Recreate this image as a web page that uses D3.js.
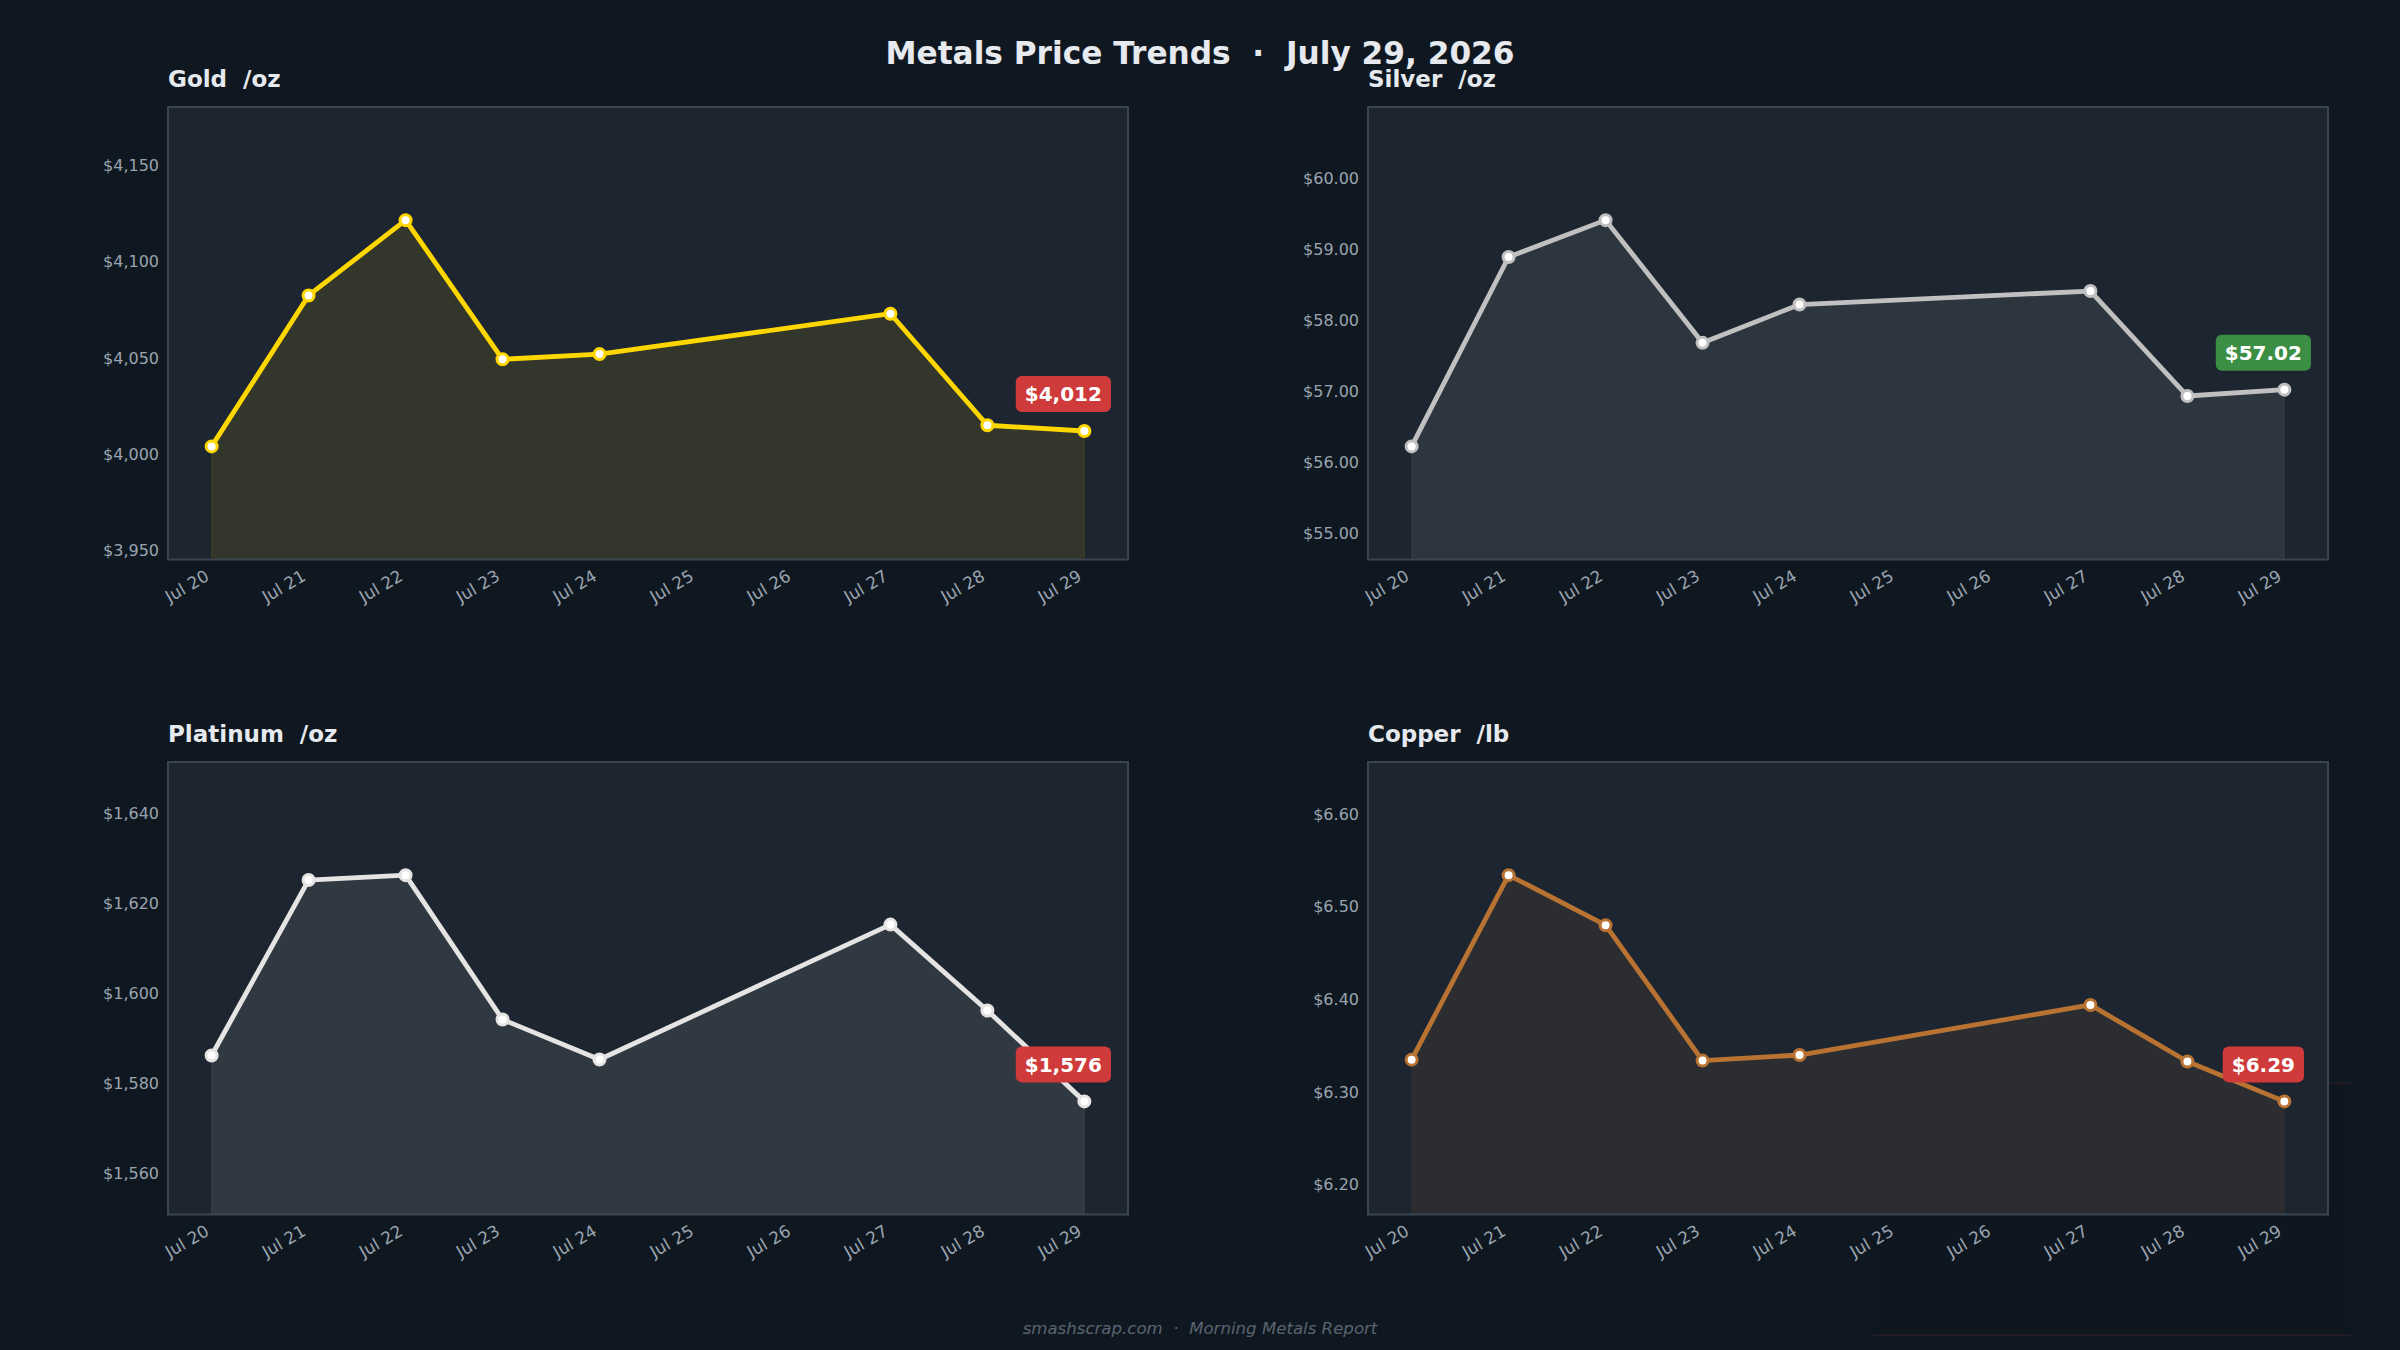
<!DOCTYPE html>
<html><head><meta charset="utf-8">
<script src="https://cdn.jsdelivr.net/npm/d3@7"></script>
<style>
html,body{margin:0;padding:0;background:#0f1821;}
svg{display:block;}
text{font-family:"DejaVu Sans",sans-serif;}
</style></head>
<body>
<svg id="chart" width="2400" height="1350"></svg>
<script>
// ---- data ----
const tickDays = [20,21,22,23,24,25,26,27,28,29];
const tickLabels = ["Jul 20","Jul 21","Jul 22","Jul 23","Jul 24","Jul 25","Jul 26","Jul 27","Jul 28","Jul 29"];
const tradeDays = [20,21,22,23,24,27,28,29];

const goldPrices     = [4004, 4082.5, 4121.7, 4049.3, 4052, 4073, 4015, 4012];
const silverPrices   = [56.22, 58.89, 59.41, 57.68, 58.22, 58.41, 56.93, 57.02];
const platinumPrices = [1586.2, 1625.2, 1626.3, 1594.2, 1585.3, 1615.3, 1596.2, 1576];
const copperPrices   = [6.335, 6.534, 6.480, 6.334, 6.340, 6.394, 6.333, 6.29];

const goldTicks     = [3950, 4000, 4050, 4100, 4150];
const silverTicks   = [55, 56, 57, 58, 59, 60];
const platinumTicks = [1560, 1580, 1600, 1620, 1640];
const copperTicks   = [6.2, 6.3, 6.4, 6.5, 6.6];

const panelNames = ["Gold", "Silver", "Platinum", "Copper"];
const panelUnits = ["/oz", "/oz", "/oz", "/lb"];
const panelColors = ["#FFD700", "#C0C0C0", "#E5E4E2", "#B87333"];

// ---- layout ----
const svg = d3.select("#chart");
svg.append("rect").attr("width",2400).attr("height",1350).attr("fill","#0f1821");

// faint background artifact lower right
svg.append("rect").attr("x",1873).attr("y",1083).attr("width",478).attr("height",252)
  .attr("fill","#0e1620").attr("opacity",0.6);
svg.append("line").attr("x1",1873).attr("x2",2351).attr("y1",1335).attr("y2",1335)
  .attr("stroke","#3a2228").attr("stroke-width",1.5).attr("opacity",0.6);
svg.append("line").attr("x1",2328).attr("x2",2351).attr("y1",1083).attr("y2",1083)
  .attr("stroke","#3a2228").attr("stroke-width",1.5).attr("opacity",0.6);

svg.append("text").attr("x",1200).attr("y",64).attr("text-anchor","middle")
  .attr("font-size",31.2).attr("font-weight","bold").attr("fill","#e6e9ed")
  .style("white-space","pre").text("Metals Price Trends  \u00b7  July 29, 2026");

svg.append("text").attr("x",1200).attr("y",1334).attr("text-anchor","middle")
  .attr("font-size",16.6).attr("font-style","italic").attr("fill","#5a6470")
  .style("white-space","pre").text("smashscrap.com  \u00b7  Morning Metals Report");

const panels = [
  {prices: goldPrices, ticks: goldTicks, fmt: v => "$" + d3.format(",.0f")(v), lab: v => "$" + d3.format(",.0f")(v), left:168, top:107},
  {prices: silverPrices, ticks: silverTicks, fmt: v => "$" + d3.format(".2f")(v), lab: v => "$" + d3.format(".2f")(v), left:1368, top:107},
  {prices: platinumPrices, ticks: platinumTicks, fmt: v => "$" + d3.format(",.0f")(v), lab: v => "$" + d3.format(",.0f")(v), left:168, top:762},
  {prices: copperPrices, ticks: copperTicks, fmt: v => "$" + d3.format(".2f")(v), lab: v => "$" + d3.format(".2f")(v), left:1368, top:762}
];
const W = 960, H = 452.5;

panels.forEach((p, i) => {
  const color = panelColors[i];
  const g = svg.append("g").attr("transform", `translate(${p.left},${p.top})`);
  const mn = d3.min(p.prices), mx = d3.max(p.prices), rg = mx - mn;
  const x = d3.scaleLinear().domain([19.55, 29.45]).range([0, W]);
  const y = d3.scaleLinear().domain([mn - rg/2, mx + rg/2]).range([H, 0]);

  g.append("rect").attr("width",W).attr("height",H).attr("fill","#1c2530");

  const data = tradeDays.map((d, k) => ({d, v: p.prices[k]}));

  const area = d3.area().x(d => x(d.d)).y0(H).y1(d => y(d.v));
  g.append("path").datum(data).attr("d", area)
    .attr("fill", color).attr("fill-opacity", 0.1)
    .attr("stroke", color).attr("stroke-opacity", 0.08).attr("stroke-width", 1.5);

  const line = d3.line().x(d => x(d.d)).y(d => y(d.v));
  g.append("path").datum(data).attr("d", line)
    .attr("fill","none").attr("stroke", color).attr("stroke-width", 4.8)
    .attr("stroke-linejoin","round").attr("stroke-linecap","round");

  g.selectAll("circle.pt").data(data).join("circle").attr("class","pt")
    .attr("cx", d => x(d.d)).attr("cy", d => y(d.v)).attr("r", 5.5)
    .attr("fill","#ffffff").attr("stroke", color).attr("stroke-width", 3);

  g.append("rect").attr("x",0).attr("y",0).attr("width",W).attr("height",H)
    .attr("fill","none").attr("stroke","#3a4551").attr("stroke-width",2);

  // y axis
  const yAxis = d3.axisLeft(y).tickValues(p.ticks).tickSize(0).tickPadding(9).tickFormat(p.lab);
  const ya = g.append("g").call(yAxis);
  ya.select(".domain").remove();
  ya.selectAll("text").attr("font-size",16).attr("fill","#9aa4af").attr("font-family","DejaVu Sans");

  // x axis
  const xAxis = d3.axisBottom(x).tickValues(tickDays).tickSize(0).tickFormat((d, k) => tickLabels[k]);
  const xa = g.append("g").attr("transform", `translate(0,${H})`).call(xAxis);
  xa.select(".domain").remove();
  xa.selectAll("text").attr("font-size",16.8).attr("fill","#9aa4af").attr("font-family","DejaVu Sans")
    .attr("text-anchor","end").attr("dy",null).attr("y",null)
    .attr("transform","translate(-2,20) rotate(-30)");

  // title
  g.append("text").attr("x",0).attr("y",-20).attr("font-size",23).attr("font-weight","bold")
    .attr("fill","#e6e9ed").style("white-space","pre").text(panelNames[i] + "  " + panelUnits[i]);

  // badge
  const last = data[data.length-1], prev = data[data.length-2];
  const badgeColor = last.v >= prev.v ? "#3a8f44" : "#cf3a3a";
  const bx = x(last.d) - 21, by = y(last.v) - 37;
  const bg = g.append("g");
  const t = bg.append("text").attr("x",bx).attr("y",by).attr("dy","0.36em").attr("text-anchor","middle")
    .attr("font-size",20).attr("font-weight","bold").attr("fill","#ffffff").text(p.fmt(last.v));
  const bb = t.node().getBBox();
  bg.insert("rect","text").attr("x", bx - bb.width/2 - 9).attr("y", by - 18)
    .attr("width", bb.width + 18).attr("height", 36).attr("rx",6).attr("fill", badgeColor);
});
</script>
</body></html>
